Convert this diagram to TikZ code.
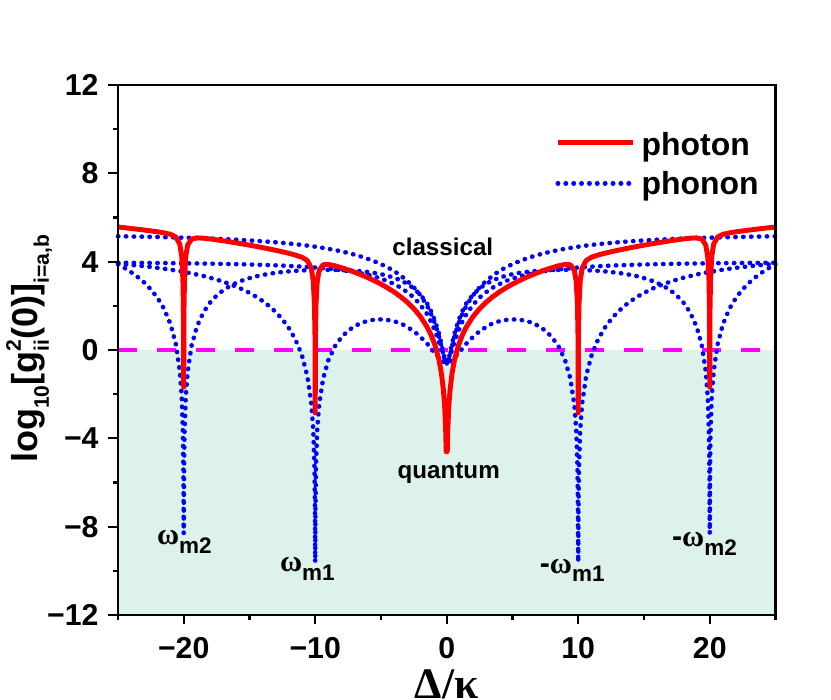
\documentclass[tikz,border=0pt]{standalone}
\usepackage{fontspec}
\setmainfont{Liberation Sans}
\newfontfamily\greekserif{Liberation Serif}

\definecolor{quantumfill}{RGB}{220,242,234}
\definecolor{photonred}{RGB}{255,0,0}
\definecolor{phononblue}{RGB}{0,0,255}
\definecolor{zeromagenta}{RGB}{255,0,255}

\newcommand\subsz{\fontsize{15}{18}\selectfont}
\newcommand\omegalab[2]{#1{\greekserif ω}\raisebox{-6pt}{\fontsize{16}{18}\selectfont m#2}}

\tikzset{
  declare function={
    nt(\s,\w)=log10(max(abs(\s),0.001))-0.5*log10((\s)*(\s)+(\w)*(\w));
    cn(\s,\e,\h)=2*log10(((\s)*(\s)+\e)/((\s)*(\s)+(\h)*(\h)));
    photon(\s)=max(3.7*log10(max(abs(\s),0.001))+0.4,-4.6)
      +max(2.9*nt(\s-10,0.3),-6.95)+max(2.9*nt(\s+10,0.3),-6.95)
      +max(2.9*nt(\s-20,0.3),-6.9)+max(2.9*nt(\s+20,0.3),-6.9);
    pa(\s)=5.28+cn(\s,0.115,10);
    pb(\s)=4.0+cn(\s,0.2,6);
    ma(\s)=4.41+max(4*nt(\s-10,10),-13.26)+max(4*nt(\s+10,10),-13.26)+cn(\s,1.2,9.65);
    mb(\s)=4.01+max(4*nt(\s-20,5.5),-12.4)+max(4*nt(\s+20,5.5),-12.4)
      +cn(\s,0.092,4)+2*log10(1+((\s)*(\s)/625)^4);
  },
  fine/.style={samples at={-25,-24.5,...,-21,
    -20.6,-20.3,-20.15,-20.06,-20.02,-20,-19.98,-19.94,-19.85,-19.7,-19.4,
    -19,-18.5,...,-11,
    -10.6,-10.3,-10.15,-10.06,-10.02,-10,-9.98,-9.94,-9.85,-9.7,-9.4,
    -9,-8.5,...,-1.5,
    -1.2,-0.9,-0.6,-0.4,-0.25,-0.15,-0.08,-0.04,0,0.04,0.08,0.15,0.25,0.4,0.6,0.9,1.2,
    1.5,2,...,9,
    9.4,9.7,9.85,9.94,9.98,10,10.02,10.06,10.15,10.3,10.6,
    11,11.5,...,19,
    19.4,19.7,19.85,19.94,19.98,20,20.02,20.06,20.15,20.3,20.6,
    21,21.5,...,25}},
  photonline/.style={photonred, line width=3.5pt, line join=round},
  phononline/.style={phononblue, line width=3.2pt, line cap=round, dash pattern=on 0.3pt off 5.3pt},
  zeroline/.style={zeromagenta, line width=2.8pt, dash pattern=on 13.5pt off 14.2pt},
  axisline/.style={black, line width=1.5pt},
  ticklabel/.style={inner sep=0pt, font=\fontsize{21.5}{25}\selectfont\bfseries},
  legendtext/.style={inner sep=0pt, font=\fontsize{22.7}{27}\selectfont\bfseries},
  regiontext/.style={inner sep=0pt, font=\fontsize{17.2}{20}\selectfont\bfseries},
  modetext/.style={inner sep=0pt, font=\fontsize{21.5}{25}\selectfont\bfseries},
}

\begin{document}
\begin{tikzpicture}[x=0.32875cm, y=0.552cm]
\useasboundingbox (-33.97,-15.81) rectangle (29.22,15.85);

% quantum region
\fill[quantumfill] (-25,-12) rectangle (25,0);

% zero line
\draw[zeroline] (-25,0) -- (25,0);

% phonon curves
\draw[phononline] plot[fine] (\x,{pa(\x)});
\draw[phononline] plot[fine] (\x,{pb(\x)});
\draw[phononline] plot[fine] (\x,{ma(\x)});
\draw[phononline] plot[fine] (\x,{mb(\x)});

% photon curve
\draw[photonline] plot[fine] (\x,{photon(\x)});

% frame and ticks
\draw[axisline] (-25,-12) rectangle (25,12);
\foreach \v in {-12,-8,...,12}
  \draw[axisline] (-25,\v) -- ++(-0.76,0);
\foreach \v in {-10,-6,...,10}
  \draw[axisline] (-25,\v) -- ++(-0.38,0);
\foreach \v in {-20,-10,...,20}
  \draw[axisline] (\v,-12) -- ++(0,-0.41);
\foreach \v in {-25,-15,...,25}
  \draw[axisline] (\v,-12) -- ++(0,-0.23);

% tick labels
\foreach \v/\t [count=\i] in {-12/−12,-8/−8,-4/−4,0/0,4/4,8/8,12/12}
  \node[ticklabel, anchor=east] (ylab\i) at (-26.46,\v) {\t};
\foreach \v/\t [count=\i] in {-20/−20,-10/−10,0/0,10/10,20/20}
  \node[ticklabel, anchor=base] (xlab\i) at (\v,-13.99) {\t};

% axis titles
\node[anchor=base, inner sep=0pt, font=\fontsize{31}{36}\selectfont\bfseries\greekserif] (xtitle) at (0,-15.78) {Δ/κ};
\node[rotate=90, anchor=base, inner sep=0pt, font=\fontsize{25.6}{30}\selectfont\bfseries] (ytitle) at (-31.1,0.05)
  {log\raisebox{-8pt}{\subsz 10}[g\rlap{\raisebox{12pt}{\subsz 2}}\raisebox{-8pt}{\subsz ii}(0)]\raisebox{-8pt}{\subsz i=a,b}};

% legend
\draw[photonline] (8.44,9.39) -- (14.14,9.39);
\node[legendtext, anchor=base west] (lgphoton) at (14.8,8.83) {photon};
\draw[phononline] (8.44,7.55) -- (13.92,7.55);
\node[legendtext, anchor=base west] (lgphonon) at (14.8,7.02) {phonon};

% regions
\node[regiontext, anchor=base] (classical) at (-0.3,4.30) {classical};
\node[regiontext, anchor=base] (quantum) at (0.15,-5.80) {quantum};

% mechanical frequencies
\node[modetext, anchor=base] (wm2) at (-19.95,-8.83) {\omegalab{}{2}};
\node[modetext, anchor=base] (wm1) at (-10.6,-10.05) {\omegalab{}{1}};
\node[modetext, anchor=base] (nwm1) at (9.54,-10.1) {\omegalab{-}{1}};
\node[modetext, anchor=base] (nwm2) at (19.6,-8.92) {\omegalab{-}{2}};

\end{tikzpicture}
\end{document}
